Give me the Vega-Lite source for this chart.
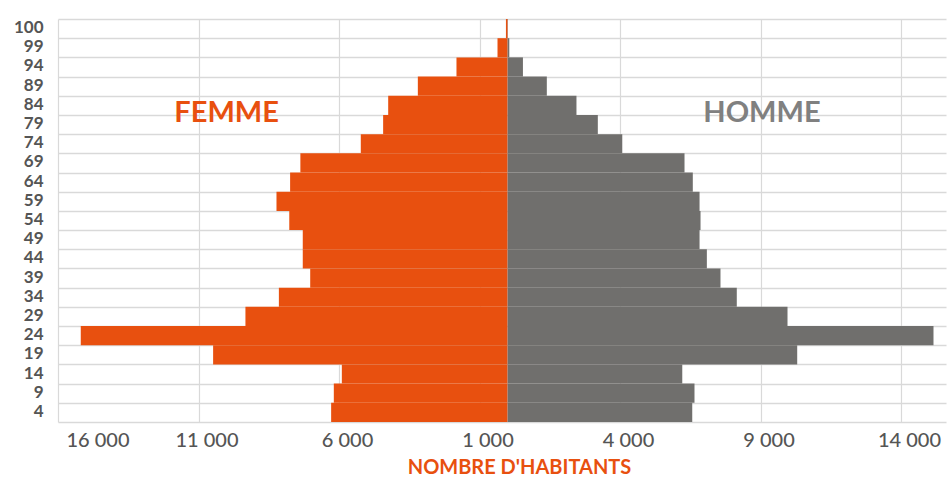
{
  "$schema": "https://vega.github.io/schema/vega-lite/v6.json",
  "width": 888,
  "height": 403,
  "autosize": {"type": "none"},
  "padding": {"left": 58, "top": 19, "right": 1, "bottom": 55},
  "background": "white",
  "config": {
    "view": {"stroke": null},
    "font": "Lato",
    "text": {"font": "Lato"}
  },
  "datasets": {
    "pyramide": [
      {"age": "100", "sexe": "Femme", "habitants": -60},
      {"age": "99", "sexe": "Femme", "habitants": -360},
      {"age": "94", "sexe": "Femme", "habitants": -1820},
      {"age": "89", "sexe": "Femme", "habitants": -3195},
      {"age": "84", "sexe": "Femme", "habitants": -4250},
      {"age": "79", "sexe": "Femme", "habitants": -4430},
      {"age": "74", "sexe": "Femme", "habitants": -5225},
      {"age": "69", "sexe": "Femme", "habitants": -7375},
      {"age": "64", "sexe": "Femme", "habitants": -7740},
      {"age": "59", "sexe": "Femme", "habitants": -8225},
      {"age": "54", "sexe": "Femme", "habitants": -7770},
      {"age": "49", "sexe": "Femme", "habitants": -7290},
      {"age": "44", "sexe": "Femme", "habitants": -7290},
      {"age": "39", "sexe": "Femme", "habitants": -7025},
      {"age": "34", "sexe": "Femme", "habitants": -8140},
      {"age": "29", "sexe": "Femme", "habitants": -9330},
      {"age": "24", "sexe": "Femme", "habitants": -15190},
      {"age": "19", "sexe": "Femme", "habitants": -10480},
      {"age": "14", "sexe": "Femme", "habitants": -5900},
      {"age": "9", "sexe": "Femme", "habitants": -6185},
      {"age": "4", "sexe": "Femme", "habitants": -6280},
      {"age": "100", "sexe": "Homme", "habitants": 10},
      {"age": "99", "sexe": "Homme", "habitants": 60},
      {"age": "94", "sexe": "Homme", "habitants": 545},
      {"age": "89", "sexe": "Homme", "habitants": 1395},
      {"age": "84", "sexe": "Homme", "habitants": 2450},
      {"age": "79", "sexe": "Homme", "habitants": 3210},
      {"age": "74", "sexe": "Homme", "habitants": 4080},
      {"age": "69", "sexe": "Homme", "habitants": 6295},
      {"age": "64", "sexe": "Homme", "habitants": 6590},
      {"age": "59", "sexe": "Homme", "habitants": 6830},
      {"age": "54", "sexe": "Homme", "habitants": 6865},
      {"age": "49", "sexe": "Homme", "habitants": 6830},
      {"age": "44", "sexe": "Homme", "habitants": 7090},
      {"age": "39", "sexe": "Homme", "habitants": 7575},
      {"age": "34", "sexe": "Homme", "habitants": 8155},
      {"age": "29", "sexe": "Homme", "habitants": 9960},
      {"age": "24", "sexe": "Homme", "habitants": 15155},
      {"age": "19", "sexe": "Homme", "habitants": 10305},
      {"age": "14", "sexe": "Homme", "habitants": 6215},
      {"age": "9", "sexe": "Homme", "habitants": 6650},
      {"age": "4", "sexe": "Homme", "habitants": 6570}
    ]
  },
  "layer": [
    {
      "data": {"name": "pyramide"},
      "mark": {"type": "bar"},
      "encoding": {
        "y": {
          "field": "age",
          "type": "nominal",
          "sort": null,
          "scale": {
            "domain": ["100", "99", "94", "89", "84", "79", "74", "69", "64", "59", "54", "49", "44", "39", "34", "29", "24", "19", "14", "9", "4"],
            "paddingInner": 0,
            "paddingOuter": 0
          },
          "axis": {
            "title": null,
            "domain": false,
            "ticks": false,
            "tickSize": 0,
            "grid": true,
            "tickBand": "extent",
            "gridColor": "#d9d9d9",
            "gridWidth": 1.3,
            "labelPadding": 15,
            "labelFontSize": 17,
            "labelFontWeight": "bold",
            "labelColor": "#555555",
            "labelOffset": -1
          }
        },
        "x": {
          "field": "habitants",
          "type": "quantitative",
          "stack": null,
          "scale": {"domain": [-16000, 15600], "nice": false},
          "axis": {
            "title": "NOMBRE D'HABITANTS",
            "titleColor": "#E8500F",
            "titleFontSize": 20,
            "titleFontWeight": "bold",
            "titleFont": "Lato",
            "titleX": 461,
            "titleAlign": "center",
            "titlePadding": 7,
            "values": [-16000, -11000, -6000, -1000, 4000, 9000, 14000],
            "labelExpr": "replace(format(abs(datum.value), ','), ',', ' ')",
            "domain": false,
            "ticks": false,
            "tickSize": 0,
            "grid": true,
            "gridColor": "#d9d9d9",
            "gridWidth": 1.2,
            "labelPadding": 8,
            "labelFontSize": 20,
            "labelFontWeight": 500,
            "labelColor": "#555555",
            "labelOffset": 8
          }
        },
        "color": {
          "field": "sexe",
          "type": "nominal",
          "scale": {"domain": ["Femme", "Homme"], "range": ["#E8500F", "#706F6D"]},
          "legend": null
        }
      }
    },
    {
      "mark": {"type": "rule", "color": "white", "strokeWidth": 1.2},
      "encoding": {"x": {"datum": 0}}
    },
    {
      "data": {"values": [{"etiquette": "FEMME", "habitants": -10000, "age": "84"}]},
      "mark": {"type": "text", "fontSize": 29, "fontWeight": "bold", "color": "#E8500F", "align": "center", "baseline": "middle"},
      "encoding": {
        "x": {"field": "habitants", "type": "quantitative"},
        "y": {"field": "age", "type": "nominal", "bandPosition": 0.88},
        "text": {"field": "etiquette"}
      }
    },
    {
      "data": {"values": [{"etiquette": "HOMME", "habitants": 9050, "age": "84"}]},
      "mark": {"type": "text", "fontSize": 29, "fontWeight": "bold", "color": "#808080", "align": "center", "baseline": "middle"},
      "encoding": {
        "x": {"field": "habitants", "type": "quantitative"},
        "y": {"field": "age", "type": "nominal", "bandPosition": 0.88},
        "text": {"field": "etiquette"}
      }
    }
  ]
}
